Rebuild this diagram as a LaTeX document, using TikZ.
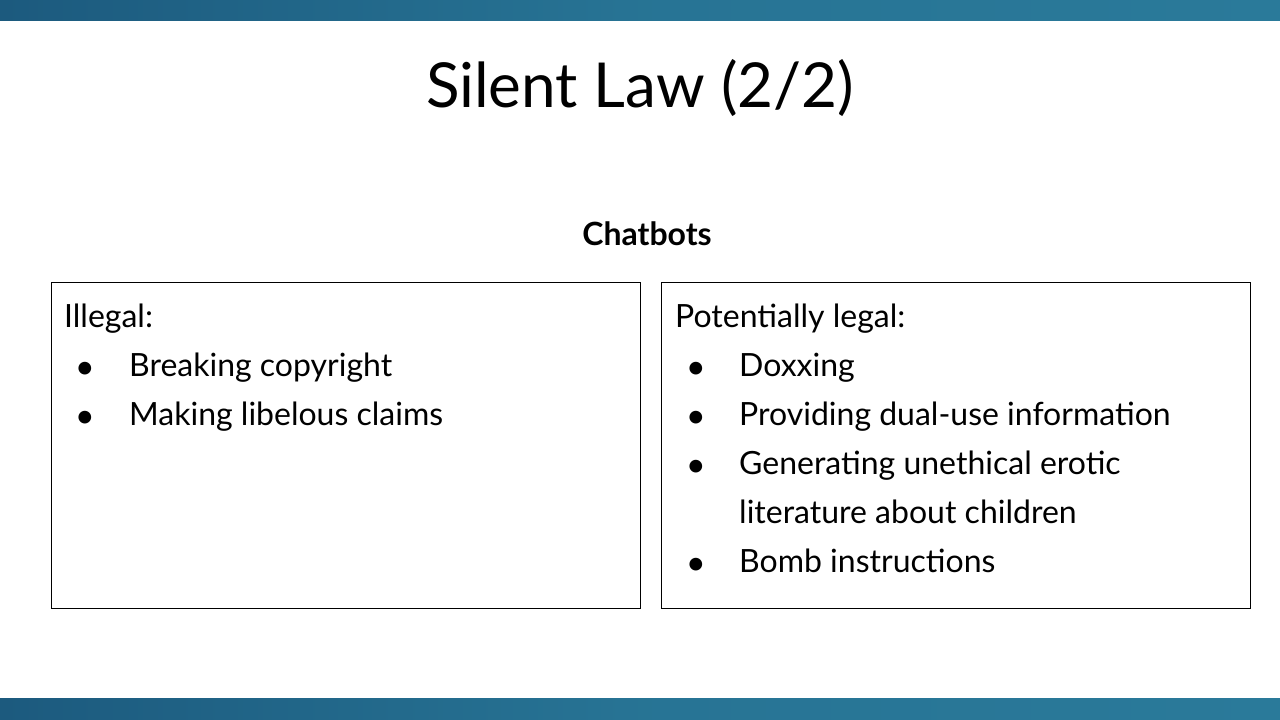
\documentclass[tikz,border=0pt]{standalone}
\usepackage{fontspec}
\setmainfont{Lato}
\definecolor{barA}{HTML}{1C5A7E}
\definecolor{barB}{HTML}{2A7A9A}
\begin{document}
\begin{tikzpicture}[x=1pt,y=-1pt,
  txt/.style={anchor=base west,inner sep=0pt,font=\fontsize{32}{38}\selectfont},
  bul/.style={anchor=base,inner sep=0pt,font=\fontsize{26}{30}\selectfont},
  panel/.style={draw=black,line width=1pt}]
\useasboundingbox (0,0) rectangle (1280,720);
\fill[left color=barA,right color=barB,middle color=barB!80!barA] (0,0) rectangle (1280,20);
\fill[left color=barA,right color=barB,middle color=barB!80!barA] (0,698) rectangle (1280,720);
\node[anchor=base,inner sep=0pt,font=\fontsize{62}{70}\selectfont] (title) at (640,107) {Silent Law (2/2)};
\node[anchor=base,inner sep=0pt,font=\fontsize{32}{38}\selectfont\bfseries] (hd) at (647,245) {Chatbots};
\draw[panel] (51,282) rectangle (640,608);
\draw[panel] (661,282) rectangle (1250,608);
\node[txt] (l0) at (64,327) {Illegal:};
\node[bul] (lb1) at (85,376) {●};
\node[txt] (l1) at (129,376) {Breaking copyright};
\node[bul] (lb2) at (85,425) {●};
\node[txt] (l2) at (129,425) {Making libelous claims};
\node[txt] (r0) at (675,327) {Potentially legal:};
\node[bul] (rb1) at (696,376) {●};
\node[txt] (r1) at (739,376) {Doxxing};
\node[bul] (rb2) at (696,425) {●};
\node[txt] (r2) at (739,425) {Providing dual-use information};
\node[bul] (rb3) at (696,474) {●};
\node[txt] (r3) at (739,474) {Generating unethical erotic};
\node[txt] (r3b) at (739,523) {literature about children};
\node[bul] (rb4) at (696,572) {●};
\node[txt] (r4) at (739,572) {Bomb instructions};
\end{tikzpicture}
\end{document}
